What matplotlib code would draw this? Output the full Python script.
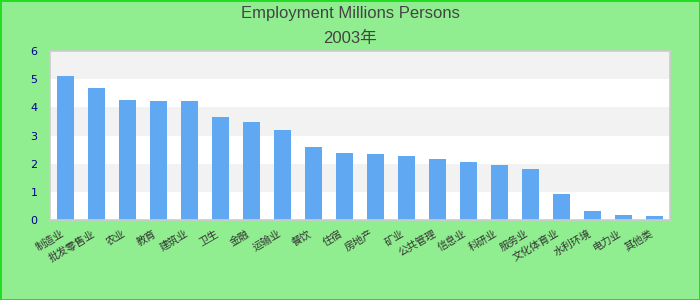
import matplotlib
matplotlib.use("Agg")
import matplotlib.pyplot as plt
import numpy as np

# data
categories = ["制造业", "批发零售业", "农业", "教育", "建筑业", "卫生", "金融", "运输业",
              "餐饮", "住宿", "房地产", "矿业", "公共管理", "信息业", "科研业", "服务业",
              "文化体育业", "水利环境", "电力业", "其他类"]
employment = [5.11, 4.69, 4.26, 4.22, 4.22, 3.66, 3.48, 3.19, 2.59, 2.38,
              2.34, 2.27, 2.17, 2.06, 1.95, 1.81, 0.92, 0.32, 0.18, 0.14]
y_ticks = [0, 1, 2, 3, 4, 5, 6]

plt.rcParams["font.family"] = ["DejaVu Sans", "Noto Sans CJK SC"]
cjk = ["Noto Sans CJK SC", "DejaVu Sans"]

fig = plt.figure(figsize=(7, 3), dpi=100)
fig.patch.set_facecolor("#90ee90")
fig.patch.set_edgecolor("#22dd22")
fig.patch.set_linewidth(2)

ax = fig.add_axes([50 / 700, 80 / 300, 620 / 700, 169 / 300])
ax.set_facecolor("white")

# alternating horizontal bands
for y in range(1, 6, 2):
    ax.axhspan(y, y + 1, color="#f2f2f2", zorder=0, lw=0)

x = np.arange(len(categories))
ax.bar(x, employment, width=0.55, color="#61a8f2", zorder=2)

ax.set_xlim(-0.5, len(categories) - 0.5)
ax.set_ylim(0, 6)
ax.set_yticks(y_ticks)
ax.set_yticklabels([str(t) for t in y_ticks], color="#00008b", fontsize=8)
ax.set_xticks(x)
ax.set_xticklabels(categories, rotation=30, ha="right", fontsize=7.5,
                   color="#333333", family=cjk)
ax.tick_params(axis="both", length=0)
ax.tick_params(axis="y", pad=9)
ax.tick_params(axis="x", pad=6)

for s in ax.spines.values():
    s.set_color("#cccccc")
    s.set_linewidth(1.2)

fig.text(0.5, 0.955, "Employment Millions Persons", ha="center", va="center",
         fontsize=12, color="#444444", family=["Liberation Sans", "Noto Sans CJK SC"])
fig.text(0.5, 0.872, "2003年", ha="center", va="center",
         fontsize=12, color="#444444", family=["Liberation Sans", "Noto Sans CJK SC"])

fig.savefig("out.png", dpi=100, facecolor=fig.get_facecolor(), edgecolor=fig.get_edgecolor())
